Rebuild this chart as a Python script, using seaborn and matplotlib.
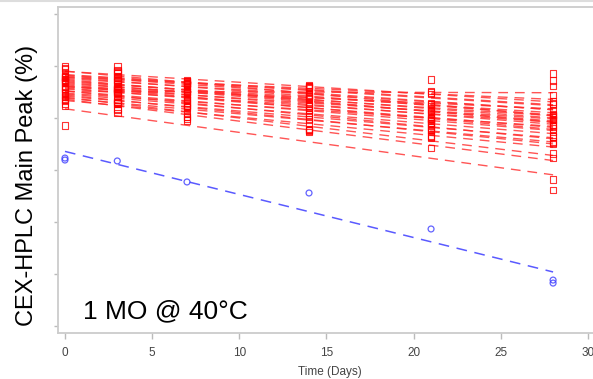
import numpy as np
import pandas as pd
import seaborn as sns
import matplotlib.pyplot as plt
from matplotlib.lines import Line2D

# ---------------- data ----------------
days = [0, 3, 7, 14, 21, 28]

lot_F = [62.0, 62.8, 62.2, 63.0, 63.7, 61.3]
lot_01 = [64.8, 64.96, 63.5, 62.6, 59.8, 63.6]
lot_02 = [65.0, 64.6, 63.55, 61.2, 58.85, 64.3]
lot_03 = [64.7, 64.3, 63.3, 61.1, 59.3, 63.1]
lot_04 = [63.7, 64.5, 63.1, 63.05, 61.1, 61.6]
lot_05 = [63.4, 63.9, 62.55, 63.1, 61.3, 59.8]
lot_06 = [64.0, 63.1, 63.2, 62.9, 60.35, 61.4]
lot_07 = [63.9, 62.5, 63.6, 61.2, 60.7, 60.3]
lot_08 = [63.0, 64.0, 62.4, 61.4, 62.45, 59.9]
lot_09 = [64.0, 63.55, 61.8, 60.35, 60.8, 60.3]
lot_10 = [63.6, 62.4, 62.8, 60.95, 62.6, 59.4]
lot_11 = [62.8, 63.65, 61.15, 62.1, 60.6, 59.0]
lot_12 = [63.5, 61.8, 62.6, 62.25, 59.1, 60.7]
lot_13 = [63.4, 62.9, 61.75, 59.5, 60.05, 59.85]
lot_14 = [62.8, 61.4, 63.35, 60.8, 60.9, 59.2]
lot_15 = [61.4, 63.25, 61.2, 61.9, 59.75, 58.2]
lot_16 = [62.4, 62.45, 61.05, 61.8, 58.1, 60.2]
lot_17 = [61.75, 61.55, 61.5, 61.9, 59.45, 57.75]
lot_18 = [62.1, 62.7, 59.75, 60.7, 58.2, 58.7]
lot_19 = [62.8, 60.75, 61.15, 58.8, 58.75, 58.2]
lot_20 = [61.7, 60.85, 61.0, 58.85, 59.45, 56.6]
lot_21 = [61.8, 61.75, 60.45, 58.95, 58.3, 56.15]
lot_22 = [61.2, 61.5, 59.9, 58.85, 59.9, 54.1]
lot_23 = [59.3, 60.5, 60.1, 58.65, 57.1, 53.1]
lot_24 = [63.9, 64.4, 63.3, 63.15, 61.3, 59.8]
lot_25 = [63.7, 62.85, 63.2, 62.15, 59.5, 60.1]
lot_26 = [63.5, 62.65, 62.05, 60.2, 59.95, 59.3]
lot_27 = [63.0, 61.4, 61.75, 59.9, 59.95, 57.6]
lot_28 = [62.2, 62.4, 60.15, 59.85, 58.9, 57.5]
lot_29 = [62.5, 62.8, 62.5, 62.95, 61.4, 60.4]
lot_30 = [64.3, 63.7, 63.4, 62.05, 62.3, 62.2]

red_lots = [lot_F, lot_01, lot_02, lot_03, lot_04, lot_05, lot_06, lot_07,
            lot_08, lot_09, lot_10, lot_11, lot_12, lot_13, lot_14, lot_15,
            lot_16, lot_17, lot_18, lot_19, lot_20, lot_21, lot_22, lot_23,
            lot_24, lot_25, lot_26, lot_27, lot_28, lot_29, lot_30]

blue_days = [0, 0, 3, 7, 14, 21, 28, 28]
blue_peak = [55.96, 56.15, 55.87, 53.85, 52.79, 49.33, 44.42, 44.13]

x_ticks = [0, 5, 10, 15, 20, 25, 30]
y_ticks = [40, 45, 50, 55, 60, 65, 70]

title_text = "1 MO @ 40°C"
y_label = "CEX-HPLC Main Peak (%)"
x_label = "Time (Days)"

# ---------------- figure ----------------
sns.set_style("white")
plt.rcParams['font.family'] = ['Liberation Sans', 'DejaVu Sans']

W, H = 593, 379
fig = plt.figure(figsize=(W / 100, H / 100), dpi=100)
ax = fig.add_axes([58 / W, (H - 333) / H, (W - 58) / W, (333 - 6.5) / H])

red_dash = (0, (7, 5))
for vals in red_lots:
    sns.regplot(x=days, y=vals, ax=ax, ci=None, truncate=True, marker='s',
                scatter_kws=dict(s=22, facecolors='none', edgecolors='#ff0000',
                                 linewidths=0.8, zorder=3),
                line_kws=dict(color='#ff2a2a', lw=1.0, ls=red_dash, alpha=0.8,
                              zorder=2))

sns.regplot(x=blue_days, y=blue_peak, ax=ax, ci=None, truncate=True, marker='o',
            scatter_kws=dict(s=18, facecolors='none', edgecolors='#3b3bff',
                             linewidths=0.9, zorder=3),
            line_kws=dict(color='#5a5aff', lw=1.1, ls=red_dash, zorder=2))

ax.set_xlim(-0.40, 30.29)
ax.set_ylim(39.33, 70.72)
ax.set_xticks(x_ticks)
ax.set_xticklabels([str(t) for t in x_ticks])
ax.set_yticks(y_ticks)
ax.set_yticklabels([])
ax.set_xlabel("")
ax.set_ylabel("")

for side in ['left', 'top', 'bottom']:
    ax.spines[side].set_visible(True)
    ax.spines[side].set_color('#cccccc')
    ax.spines[side].set_linewidth(1.3)
ax.spines['right'].set_visible(False)

ax.tick_params(axis='x', direction='out', length=4, width=1.0, color='#bbbbbb',
               labelsize=8.5, labelcolor='#444444', pad=6, bottom=True)
ax.tick_params(axis='y', direction='out', length=3, width=1.0, color='#bbbbbb',
               left=True)

fig.text(83 / W, 1 - 318 / H, title_text, fontsize=19, color='black',
         ha='left', va='baseline')
fig.text(27 / W, 1 - 185 / H, y_label, fontsize=17, rotation=90,
         ha='center', va='center', color='black')
fig.text(330 / W, 1 - 372 / H, x_label, fontsize=8.5, color='#444444',
         ha='center', va='center')

fig.add_artist(Line2D([0, 1], [1 - 1 / H, 1 - 1 / H], transform=fig.transFigure,
                      color='#dddddd', lw=1.5))

fig.savefig("out.png", dpi=100)
